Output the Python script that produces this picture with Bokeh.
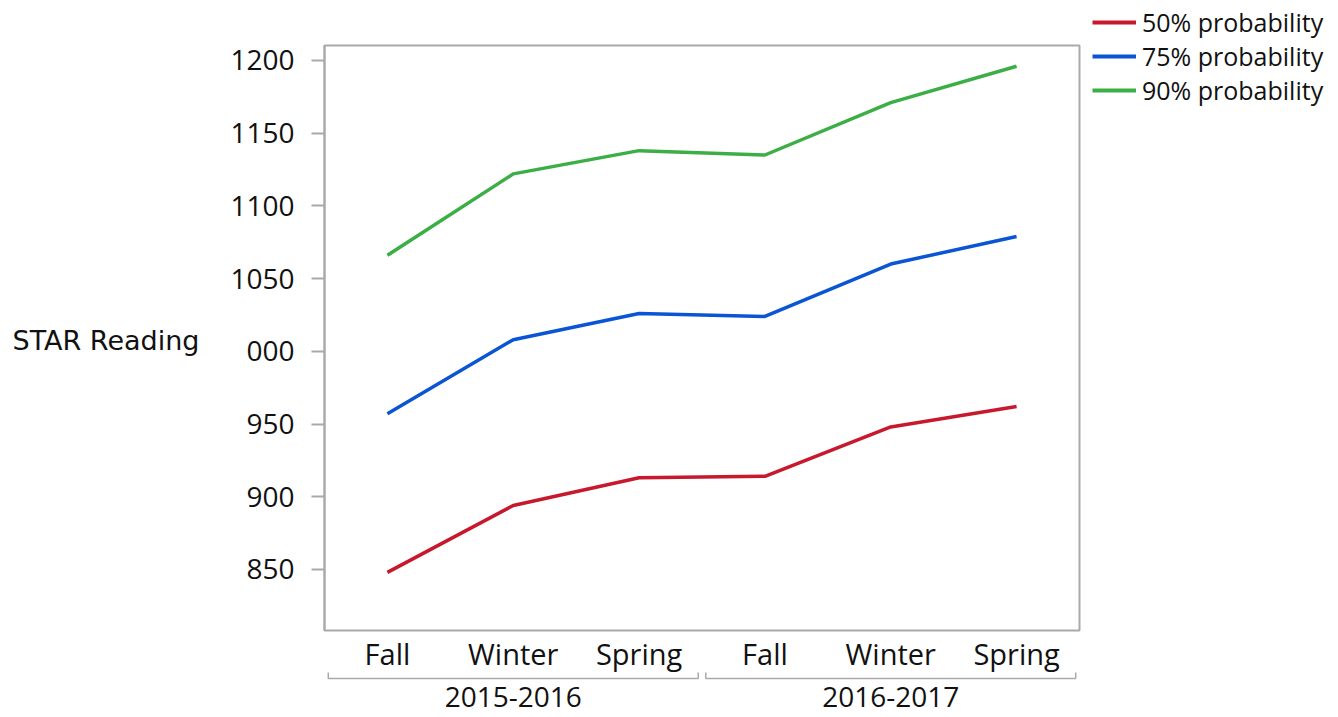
from bokeh.plotting import figure
from bokeh.layouts import row, column
from bokeh.models import FactorRange, Range1d, FixedTicker, Legend, LegendItem
from bokeh.core.properties import value
from bokeh.embed import file_html
from bokeh.resources import INLINE

# ---- data ----
years = ["2015-2016", "2016-2017"]
terms = ["Fall", "Winter", "Spring"]
series_names = ["50% probability", "75% probability", "90% probability"]
p50 = [848, 894, 913, 914, 948, 962]
p75 = [957, 1008, 1026, 1024, 1060, 1079]
p90 = [1066, 1122, 1138, 1135, 1171, 1196]
y_ticks = [850, 900, 950, 1000, 1050, 1100, 1150, 1200]
y_label_overrides = {1000: "000"}
axis_title = "STAR Reading"

colors = ["#C8182D", "#0A55D4", "#3BAF46"]
GRAY = "#AAAAAA"
TXT = "#111111"
FONT = "Open Sans"

factors = [(y, t) for y in years for t in terms]
series = [p50, p75, p90]

FW, FH = 755, 585
LEFT_W = 220
RB = 8
STRIP_H = 84

xr = FactorRange(*factors, factor_padding=0, group_padding=0, range_padding=0)

# ---- main chart ----
p = figure(x_range=xr, y_range=Range1d(808, 1210.3),
           frame_width=FW, frame_height=FH,
           min_border_left=324 - LEFT_W, min_border_top=45, min_border_right=RB, min_border_bottom=2,
           output_backend="svg", toolbar_location=None)
p.outline_line_color = GRAY
p.outline_line_width = 2
p.grid.visible = False
p.xaxis.visible = False

ya = p.yaxis[0]
ya.ticker = FixedTicker(ticks=y_ticks)
ya.major_label_overrides = y_label_overrides
ya.axis_line_color = GRAY
ya.axis_line_width = 2
ya.major_tick_line_color = GRAY
ya.major_tick_line_width = 2
ya.major_tick_out = 13
ya.major_tick_in = 0
ya.minor_tick_line_color = None
ya.major_label_text_font = FONT
ya.major_label_text_font_size = "28px"
ya.major_label_text_color = TXT
ya.major_label_standoff = 17

for vals, c in zip(series, colors):
    p.line(x=factors, y=vals, line_color=c, line_width=3.5)

# ---- category axis strip below the chart (labels + group brackets) ----
p2 = figure(x_range=xr, y_range=Range1d(STRIP_H, 0),
            frame_width=FW, frame_height=STRIP_H,
            min_border_left=324 - LEFT_W, min_border_right=RB, min_border_top=0, min_border_bottom=0,
            output_backend="svg", toolbar_location=None)
p2.axis.visible = False
p2.grid.visible = False
p2.outline_line_color = None

p2.text(x=factors, y=[21] * len(factors), text=[t for _, t in factors],
        text_font=value(FONT), text_font_size="29px", text_color=TXT,
        text_align="center", text_baseline="middle")
p2.text(x=years, y=[64] * len(years), text=years,
        text_font=value(FONT), text_font_size="28px", text_color=TXT,
        text_align="center", text_baseline="middle")
b_xs = [[(y, terms[0], -0.47), (y, terms[0], -0.47), (y, terms[-1], 0.47), (y, terms[-1], 0.47)]
        for y in years]
b_ys = [[40, 46, 46, 40] for _ in years]
p2.multi_line(xs=b_xs, ys=b_ys, line_color=GRAY, line_width=1.5)

# ---- y-axis title strip on the left ----
pl = figure(x_range=Range1d(0, LEFT_W), y_range=Range1d(632, 0),
            frame_width=LEFT_W, frame_height=632,
            min_border=0, output_backend="svg", toolbar_location=None)
pl.axis.visible = False
pl.grid.visible = False
pl.outline_line_color = None
pl.text(x=[12], y=[340], text=[axis_title], text_font=value("DejaVu Sans"),
        text_font_size="27px", text_color=TXT, text_baseline="middle", text_align="left")

# ---- legend panel on the right (series drawn out of view; only legend shows) ----
p3 = figure(x_range=xr, y_range=Range1d(0, 1),
            frame_width=1338 - (324 + FW + RB) - 3, frame_height=110,
            min_border=0, output_backend="svg", toolbar_location=None)
p3.axis.visible = False
p3.grid.visible = False
p3.outline_line_color = None
items = []
for n, vals, c in zip(series_names, series, colors):
    r = p3.line(x=factors, y=vals, line_color=c, line_width=4)
    items.append(LegendItem(label=n, renderers=[r]))
legend = Legend(items=items, location="top_left", orientation="vertical",
                background_fill_alpha=0, border_line_color=None,
                label_text_font=FONT, label_text_font_size="25px", label_text_color=TXT,
                glyph_width=44, glyph_height=32, label_height=32, label_standoff=6,
                spacing=-2, padding=0, margin=5)
p3.add_layout(legend, "center")

layout = row(pl, column(p, p2), p3)
open("out.html", "w").write(file_html(layout, INLINE))
